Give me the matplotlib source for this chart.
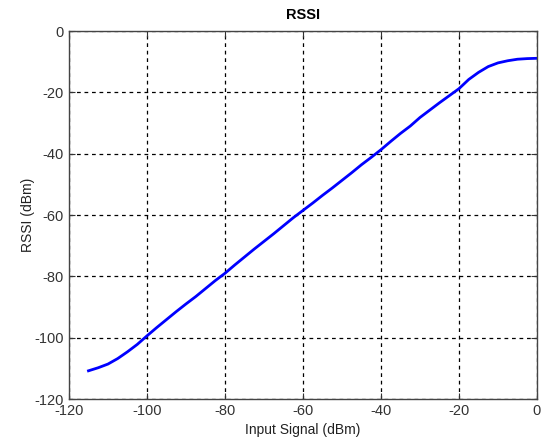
import matplotlib
matplotlib.use("Agg")
from matplotlib import pyplot as plt

input_dbm = [-115, -112.5, -110, -107.5, -105, -102.5, -100, -97.5, -95, -92.5,
             -90, -87.5, -85, -82.5, -80, -77.5, -75, -72.5, -70, -67.5,
             -65, -62.5, -60, -57.5, -55, -52.5, -50, -47.5, -45, -42.5,
             -40, -37.5, -35, -32.5, -30, -27.5, -25, -22.5, -20, -17.5,
             -15, -12.5, -10, -7.5, -5, -2.5, 0]
rssi_dbm = [-110.8, -109.8, -108.6, -106.8, -104.6, -102.2, -99.4, -96.7, -94.1, -91.5,
            -89.0, -86.6, -84.0, -81.4, -79.0, -76.3, -73.7, -71.1, -68.6, -66.1,
            -63.5, -60.9, -58.5, -56.1, -53.6, -51.2, -48.7, -46.2, -43.6, -41.2,
            -38.7, -36.0, -33.4, -31.0, -28.2, -25.8, -23.4, -21.1, -18.8, -15.8,
            -13.5, -11.6, -10.4, -9.7, -9.2, -9.0, -8.9]

xticks = [-120, -100, -80, -60, -40, -20, 0]
yticks = [-120, -100, -80, -60, -40, -20, 0]

plt.rcParams['font.family'] = ['Liberation Sans', 'DejaVu Sans']
plt.rcParams['axes.unicode_minus'] = False

fig = plt.figure(figsize=(5.41, 4.41), dpi=100)
ax = fig.add_axes([0.1275, 0.0952, 0.8651, 0.8345])

ax.plot(input_dbm, rssi_dbm, color=(0, 0, 1), linewidth=2)

ax.set_xlim(-120, 0)
ax.set_ylim(-120, 0)
ax.set_xticks(xticks)
ax.set_yticks(yticks)
ax.grid(True, color="black", linestyle=(0, (3, 3)), linewidth=0.9)
ax.tick_params(direction="in", length=4, colors="#333333", labelsize=10.5,
               top=True, right=True, labeltop=False, labelright=False)
for sp in ax.spines.values():
    sp.set_color("#444444")
    sp.set_linewidth(1.0)

ax.set_title("RSSI", fontsize=10.5, fontweight="bold", pad=9)
ax.set_xlabel("Input Signal (dBm)", fontsize=10, labelpad=4, color="#222222")
ax.set_ylabel("RSSI (dBm)", fontsize=10, labelpad=0, color="#222222")

fig.savefig("out.png", dpi=100, facecolor="white")
